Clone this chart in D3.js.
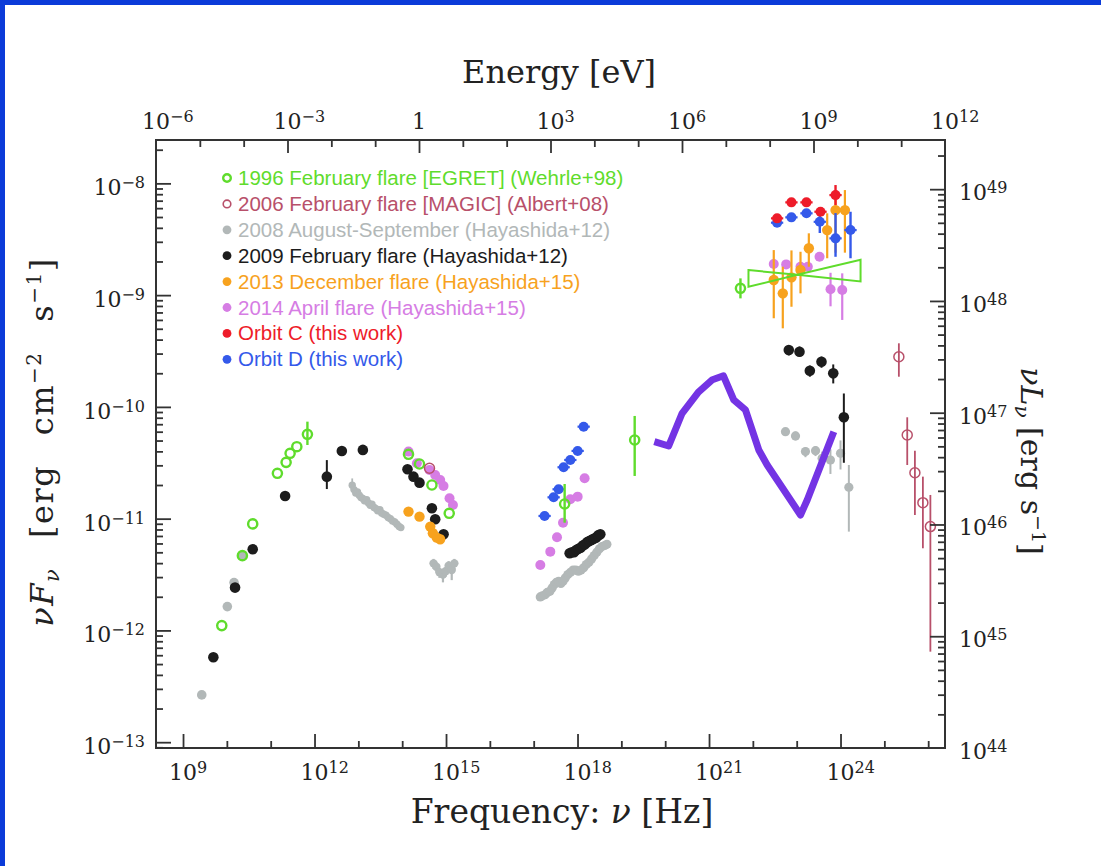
<!DOCTYPE html>
<html>
<head>
<meta charset="utf-8">
<script src="https://cdn.jsdelivr.net/npm/d3@7"></script>
<style>
  body { margin: 0; background: #fff; }
  svg { display: block; }
</style>
</head>
<body>
<svg id="chart" width="1101" height="866"></svg>
<script>
// all values are log10: nu [Hz], nuFnu [erg cm-2 s-1]

// 1996 February flare [EGRET] (Wehrle+98)
const egretNu = [9.884, 10.354, 10.59, 11.153, 11.352, 11.443, 11.596, 11.838, 14.144, 14.395, 14.678, 15.073, 17.706, 19.304, 21.717];
const egretF  = [-11.957, -11.331, -11.047, -10.594, -10.496, -10.415, -10.356, -10.245, -10.424, -10.511, -10.699, -10.952, -10.869, -10.296, -8.939];
const egretLo = [null, null, null, null, null, null, null, -10.341, null, null, null, null, -11.036, -10.618, -9.029];
const egretHi = [null, null, null, null, null, null, null, -10.132, null, null, null, null, -10.69, -10.081, -8.85];
// EGRET power-law bowtie: left end, pivot, right end
const bowNu    = [21.9, 23.011, 24.457];
const bowUpper = [-8.776, -8.818, -8.684];
const bowLower = [-8.925, -8.818, -8.878];

// 2006 February flare [MAGIC] (Albert+08)
const magicNu = [14.623, 25.331, 25.522, 25.697, 25.879, 26.05];
const magicF  = [-10.549, -9.551, -10.251, -10.589, -10.857, -11.071];
const magicLo = [null, -9.73, -10.52, -10.967, -11.265, -12.19];
const magicHi = [null, -9.431, -10.093, -10.392, -10.624, -10.788];

// 2008 August-September (Hayashida+12)
const grayRadioNu = [9.427, 10.011, 10.164, 10.354];
const grayRadioF  = [-12.577, -11.787, -11.572, -11.331];
const grayOptNu = [12.86, 12.90, 12.94, 12.98, 13.02, 13.06, 13.10, 13.14, 13.19, 13.23, 13.27, 13.31, 13.36,
                   13.40, 13.44, 13.49, 13.53, 13.58, 13.63, 13.68, 13.73, 13.78, 13.83, 13.88, 13.93, 13.97];
const grayOptF  = [-10.70, -10.74, -10.77, -10.76, -10.79, -10.81, -10.82, -10.84, -10.83, -10.86, -10.88, -10.87, -10.90,
                   -10.91, -10.93, -10.92, -10.95, -10.96, -10.97, -10.99, -11.00, -11.02, -11.03, -11.05, -11.07, -11.08];
const grayOptLo = [-10.75, null, null, null, -10.83, null, null, -10.87, null, null, -10.91, null, null,
                   -10.94, null, null, -10.98, null, null, -11.02, null, null, -11.06, null, null, -11.11];
const grayOptHi = [-10.64, null, null, null, -10.76, null, null, -10.81, null, null, -10.85, null, null,
                   -10.88, null, null, -10.92, null, null, -10.96, null, null, -11.00, null, null, -11.05];
const grayUvNu = [14.715, 14.78, 14.85, 14.93, 14.99, 15.06, 15.13, 15.19];
const grayUvF  = [-11.40, -11.43, -11.48, -11.50, -11.47, -11.42, -11.46, -11.40];
const grayUvLo = [-11.45, -11.48, -11.53, -11.57, -11.52, -11.47, -11.55, -11.45];
const grayUvHi = [-11.36, -11.39, -11.44, -11.45, -11.43, -11.38, -11.41, -11.36];
const grayXNu = [17.15, 17.20, 17.26, 17.31, 17.37, 17.42, 17.47, 17.52, 17.57, 17.62, 17.67, 17.72, 17.78, 17.84,
                 17.90, 17.96, 18.02, 18.08, 18.14, 18.20, 18.26, 18.32, 18.38, 18.44, 18.50, 18.56, 18.62, 18.67];
const grayXF  = [-11.70, -11.69, -11.68, -11.66, -11.65, -11.62, -11.59, -11.57, -11.56, -11.58, -11.56, -11.53, -11.50, -11.48,
                 -11.46, -11.46, -11.47, -11.46, -11.44, -11.41, -11.39, -11.36, -11.33, -11.30, -11.27, -11.25, -11.24, -11.23];
const grayGamNu = [22.744, 22.973, 23.2, 23.43, 23.58, 23.77, 24.0, 24.19];
const grayGamF  = [-10.222, -10.26, -10.4, -10.392, -10.46, -10.475, -10.415, -10.719];
const grayGamLo = [-10.26, -10.30, -10.45, -10.44, -10.53, -10.6, -10.56, -11.116];
const grayGamHi = [-10.19, -10.22, -10.36, -10.35, -10.40, -10.38, -10.3, -10.52];

// 2009 February flare (Hayashida+12)
const blackNu = [9.692, 10.187, 10.59, 11.329, 12.281, 12.623, 13.103,
                 14.121, 14.258, 14.395, 14.678, 14.753, 14.944,
                 17.82, 17.87, 17.92, 17.97, 18.02, 18.07, 18.12, 18.17, 18.22, 18.27, 18.32, 18.37, 18.42, 18.47, 18.52,
                 22.82, 23.064, 23.3, 23.566, 23.834, 24.076];
const blackF  = [-12.24, -11.617, -11.274, -10.797, -10.624, -10.394, -10.385,
                 -10.558, -10.624, -10.678, -10.907, -11.005, -11.14,
                 -11.31, -11.30, -11.30, -11.28, -11.27, -11.26, -11.24, -11.23, -11.21, -11.20, -11.19, -11.18, -11.17, -11.15, -11.14,
                 -9.491, -9.506, -9.676, -9.596, -9.7, -10.093];
const blackLo = [null, null, null, null, -10.735, null, null,
                 null, null, null, null, null, null,
                 null, null, null, null, null, null, null, null, null, null, null, null, null, null, null,
                 -9.54, -9.55, -9.73, -9.65, -9.79, -10.5];
const blackHi = [null, null, null, null, -10.476, null, null,
                 null, null, null, null, null, null,
                 null, null, null, null, null, null, null, null, null, null, null, null, null, null, null,
                 -9.45, -9.46, -9.63, -9.55, -9.62, -9.88];

// 2013 December flare (Hayashida+15)
const orangeNu = [14.144, 14.395, 14.64, 14.7, 14.79, 14.866,
                  22.477, 22.683, 22.881, 23.087, 23.277, 23.696, 23.886, 24.1];
const orangeF  = [-10.937, -10.982, -11.071, -11.131, -11.17, -11.184,
                  -8.865, -8.984, -8.841, -8.775, -8.581, -8.418, -8.239, -8.239];
const orangeLo = [null, null, null, null, null, null,
                  -9.207, -9.297, -9.104, -8.984, -8.746, -8.67, -8.62, -8.62];
const orangeHi = [null, null, null, null, null, null,
                  -8.597, -8.746, -8.6, -8.612, -8.447, -8.268, -8.06, -8.06];

// 2014 April flare (Hayashida+15)
const violetNu = [14.144, 14.335, 14.623, 14.753, 14.867, 14.943, 15.08, 15.158,
                  17.151, 17.379, 17.532, 17.669, 17.836, 18.003, 18.162,
                  22.477, 22.76, 23.087, 23.254, 23.521, 23.772, 24.039];
const violetF  = [-10.4, -10.504, -10.564, -10.609, -10.654, -10.708, -10.818, -10.878,
                  -11.414, -11.295, -11.166, -11.036, -10.826, -10.803, -10.639,
                  -8.722, -8.725, -8.746, -8.746, -8.657, -8.948, -8.954];
const violetLo = [null, null, null, null, null, null, null, null,
                  null, null, null, null, null, null, null,
                  null, null, null, null, null, -9.1, -9.222];
const violetHi = [null, null, null, null, null, null, null, null,
                  null, null, null, null, null, null, null,
                  null, null, null, null, null, -8.8, -8.805];

// Orbit C (this work)
const orbitCNu = [22.553, 22.88, 23.223, 23.543, 23.886];
const orbitCF  = [-8.313, -8.17, -8.17, -8.254, -8.105];
const orbitCLo = [null, null, null, null, -8.194];
const orbitCHi = [null, null, null, null, -8.015];

// Orbit D (this work)
const orbitDNu = [17.249, 17.455, 17.569, 17.683, 17.836, 18.003, 18.14,
                  22.553, 22.88, 23.223, 23.527, 23.886, 24.228];
const orbitDF  = [-10.976, -10.809, -10.737, -10.54, -10.475, -10.394, -10.177,
                  -8.352, -8.304, -8.268, -8.344, -8.492, -8.418];
const orbitDLo = [null, null, null, null, null, null, null,
                  null, null, null, -8.444, -8.657, -8.67];
const orbitDHi = [null, null, null, null, null, null, null,
                  null, null, null, -8.237, -8.266, -8.254];

// thick model curve
const curveNu = [19.753, 20.08, 20.386, 20.758, 21.078, 21.329, 21.564, 21.831, 22.135, 22.327, 23.087, 23.24, 23.847];
const curveF  = [-10.311, -10.35, -10.057, -9.867, -9.757, -9.722, -9.937, -10.027, -10.385, -10.52, -10.967, -10.833, -10.222];

// legend
const legendLabels = [
  "1996 February flare [EGRET] (Wehrle+98)",
  "2006 February flare [MAGIC] (Albert+08)",
  "2008 August-September (Hayashida+12)",
  "2009 February flare (Hayashida+12)",
  "2013 December flare (Hayashida+15)",
  "2014 April flare (Hayashida+15)",
  "Orbit C (this work)",
  "Orbit D (this work)"
];
const legendColors = ["#5fdc2c", "#b8506a", "#b2b8b8", "#1c1c1c", "#f7a21e", "#d67de4", "#ee1c2a", "#3459ea"];
const legendOpen = [true, true, false, false, false, false, false, false];

// ticks
const freqExps = d3.range(9, 27);        // one tick per decade
const energyExps = d3.range(-6, 13);
const fluxExps = d3.range(-13, -7);
const lumExps = d3.range(44, 50);

// luminosity conversion: log(nuLnu) - log(nuFnu)
const lumOffset = 57.052;

const frame = { left: 156, right: 945, top: 140, bottom: 748 };
const serif = "'DejaVu Serif', serif";
const sans = "'Liberation Sans', Arial, sans-serif";
const axisColor = "#333";

const svg = d3.select("#chart");

// blue border of the slide
svg.append("rect").attr("x", 0).attr("y", 0).attr("width", 1101).attr("height", 866).attr("fill", "#fff");
svg.append("rect").attr("x", 0).attr("y", 0).attr("width", 1101).attr("height", 5).attr("fill", "#0b3bd9");
svg.append("rect").attr("x", 0).attr("y", 0).attr("width", 5).attr("height", 866).attr("fill", "#0b3bd9");

const x = d3.scaleLog().domain([10 ** 8.3835, 10 ** 26.3835]).range([frame.left, frame.right]);
const xE = d3.scaleLog().domain([1e-6, 1e12]).range([frame.left, frame.right]);
const y = d3.scaleLog().domain([10 ** -13.052, 10 ** -7.612]).range([frame.bottom, frame.top]);
const yL = d3.scaleLog().domain([10 ** (-13.052 + lumOffset), 10 ** (-7.612 + lumOffset)]).range([frame.bottom, frame.top]);

svg.append("clipPath").attr("id", "clip")
  .append("rect")
    .attr("x", frame.left).attr("y", frame.top)
    .attr("width", frame.right - frame.left).attr("height", frame.bottom - frame.top);

const plot = svg.append("g").attr("clip-path", "url(#clip)");

function pointsOf(nu, f, lo, hi) {
  return nu.map((n, i) => ({
    nu: 10 ** n,
    f: 10 ** f[i],
    lo: lo && lo[i] != null ? 10 ** lo[i] : null,
    hi: hi && hi[i] != null ? 10 ** hi[i] : null
  }));
}

function drawSeries(pts, opt) {
  const g = plot.append("g");
  g.selectAll("line.err")
    .data(pts.filter(d => d.lo != null))
    .join("line")
      .attr("class", "err")
      .attr("x1", d => x(d.nu)).attr("x2", d => x(d.nu))
      .attr("y1", d => y(d.lo)).attr("y2", d => y(d.hi))
      .attr("stroke", opt.color)
      .attr("stroke-width", opt.ew || 2);
  if (opt.xbar) {
    g.selectAll("line.xerr")
      .data(pts)
      .join("line")
        .attr("class", "xerr")
        .attr("x1", d => x(d.nu / 10 ** opt.xbar)).attr("x2", d => x(d.nu * 10 ** opt.xbar))
        .attr("y1", d => y(d.f)).attr("y2", d => y(d.f))
        .attr("stroke", opt.color)
        .attr("stroke-width", 2.2);
  }
  g.selectAll("circle")
    .data(pts)
    .join("circle")
      .attr("cx", d => x(d.nu))
      .attr("cy", d => y(d.f))
      .attr("r", opt.r)
      .attr("fill", opt.open ? "none" : opt.color)
      .attr("stroke", opt.open ? opt.color : "none")
      .attr("stroke-width", opt.sw || 0);
}

const cGreen = legendColors[0], cMagic = legendColors[1], cGray = legendColors[2], cBlack = legendColors[3];
const cOrange = legendColors[4], cViolet = legendColors[5], cRed = legendColors[6], cBlue = legendColors[7];

// 2008 gray
drawSeries(pointsOf(grayRadioNu, grayRadioF), { color: cGray, r: 4.8 });
drawSeries(pointsOf(grayOptNu, grayOptF, grayOptLo, grayOptHi), { color: cGray, r: 3.7, ew: 1.8 });
drawSeries(pointsOf(grayUvNu, grayUvF, grayUvLo, grayUvHi), { color: cGray, r: 4.2, ew: 2.2 });
drawSeries(pointsOf(grayXNu, grayXF), { color: cGray, r: 4.6 });
drawSeries(pointsOf(grayGamNu, grayGamF, grayGamLo, grayGamHi), { color: cGray, r: 4.6, ew: 2, xbar: 0.08 });

// model curve
const curvePts = pointsOf(curveNu, curveF);
plot.append("path")
  .datum(curvePts)
  .attr("fill", "none")
  .attr("stroke", "#7434e4")
  .attr("stroke-width", 7)
  .attr("stroke-linejoin", "round")
  .attr("d", d3.line().x(d => x(d.nu)).y(d => y(d.f)));

drawSeries(pointsOf(blackNu, blackF, blackLo, blackHi), { color: cBlack, r: 5.3, ew: 2 });
drawSeries(pointsOf(violetNu, violetF, violetLo, violetHi), { color: cViolet, r: 5, ew: 2.2 });
drawSeries(pointsOf(orangeNu, orangeF, orangeLo, orangeHi), { color: cOrange, r: 5.2, ew: 2.2 });
drawSeries(pointsOf(orbitDNu, orbitDF, orbitDLo, orbitDHi), { color: cBlue, r: 5, ew: 2.4, xbar: 0.14 });
drawSeries(pointsOf(orbitCNu, orbitCF, orbitCLo, orbitCHi), { color: cRed, r: 5, ew: 2.4, xbar: 0.14 });

// EGRET bowtie
const bowPts = [0, 1, 2].map(i => ({ nu: 10 ** bowNu[i], f: 10 ** bowUpper[i] }))
  .concat([2, 1, 0].map(i => ({ nu: 10 ** bowNu[i], f: 10 ** bowLower[i] })));
plot.append("path")
  .datum(bowPts)
  .attr("fill", "none")
  .attr("stroke", cGreen)
  .attr("stroke-width", 2)
  .attr("d", d3.line().x(d => x(d.nu)).y(d => y(d.f)).curve(d3.curveLinearClosed));

drawSeries(pointsOf(egretNu, egretF, egretLo, egretHi), { color: cGreen, r: 4.6, open: true, sw: 2.4, ew: 2.4 });
drawSeries(pointsOf(magicNu, magicF, magicLo, magicHi), { color: cMagic, r: 5, open: true, sw: 1.5, ew: 1.8 });

// frame
svg.append("rect")
  .attr("x", frame.left).attr("y", frame.top)
  .attr("width", frame.right - frame.left).attr("height", frame.bottom - frame.top)
  .attr("fill", "none").attr("stroke", axisColor).attr("stroke-width", 2);

// ticks (inward) through d3 axes
function tickAxis(axisFn, scale, values, size, transform) {
  const g = svg.append("g")
    .attr("transform", transform)
    .call(axisFn(scale).tickValues(values).tickSize(-size).tickFormat(""));
  g.select(".domain").remove();
  g.selectAll(".tick line").attr("stroke", axisColor).attr("stroke-width", 1.8);
  return g;
}

const freqMajor = freqExps.filter(e => e % 3 === 0).map(e => 10 ** e);
const freqMinor = freqExps.filter(e => e % 3 !== 0).map(e => 10 ** e);
tickAxis(d3.axisBottom, x, freqMajor, 14, `translate(0,${frame.bottom})`);
tickAxis(d3.axisBottom, x, freqMinor, 7, `translate(0,${frame.bottom})`);

const enMajor = energyExps.filter(e => e % 3 === 0 && e > -6 && e < 12).map(e => 10 ** e);
const enMinor = energyExps.filter(e => e % 3 !== 0).map(e => 10 ** e);
tickAxis(d3.axisTop, xE, enMajor, 13, `translate(0,${frame.top})`);
tickAxis(d3.axisTop, xE, enMinor, 7, `translate(0,${frame.top})`);

function minorLog(scale) {
  const [a, b] = scale.domain();
  const out = [];
  for (let e = Math.floor(Math.log10(a)); e <= Math.ceil(Math.log10(b)); e++) {
    for (let k = 2; k <= 9; k++) {
      const v = k * 10 ** e;
      if (v >= a && v <= b) out.push(v);
    }
  }
  return out;
}
tickAxis(d3.axisLeft, y, fluxExps.map(e => 10 ** e), 15, `translate(${frame.left},0)`);
tickAxis(d3.axisLeft, y, minorLog(y), 7, `translate(${frame.left},0)`);
tickAxis(d3.axisRight, yL, lumExps.filter(e => e > 44).map(e => 10 ** e), 15, `translate(${frame.right},0)`);
tickAxis(d3.axisRight, yL, minorLog(yL), 7, `translate(${frame.right},0)`);

// power-of-ten labels
const baseSize = 22, expSize = 16;
function powLabel(px, py, exp, mode) {
  const t = svg.append("text")
    .attr("y", py)
    .attr("font-family", serif)
    .attr("font-size", baseSize)
    .attr("fill", "#222");
  if (exp === 0) {
    t.text("1").attr("x", px).attr("text-anchor", "middle");
    return;
  }
  const base = t.append("tspan").text("10");
  t.append("tspan")
    .attr("dy", -7)
    .attr("font-size", expSize)
    .text(exp < 0 ? "\u2212" + (-exp) : String(exp));
  if (mode === "center") {
    const w = base.node().getComputedTextLength();
    t.attr("x", px - w / 2);
  } else if (mode === "end") {
    t.attr("x", px).attr("text-anchor", "end");
  } else {
    t.attr("x", px);
  }
}

freqExps.filter(e => e % 3 === 0).forEach(e => powLabel(x(10 ** e), 780, e, "center"));
energyExps.filter(e => e % 3 === 0).forEach(e => powLabel(xE(10 ** e), 129, e, "center"));
fluxExps.forEach(e => powLabel(145, y(10 ** e) + 12, e, "end"));
lumExps.forEach(e => powLabel(959, yL(10 ** e) + 11, e, "start"));

// axis titles
svg.append("text")
  .attr("x", 559).attr("y", 83)
  .attr("text-anchor", "middle")
  .attr("font-family", serif).attr("font-size", 32).attr("fill", "#222")
  .text("Energy [eV]");

const xTitle = svg.append("text")
  .attr("x", 562).attr("y", 823)
  .attr("text-anchor", "middle")
  .attr("font-family", serif).attr("font-size", 33).attr("fill", "#222");
xTitle.append("tspan").text("Frequency: ");
xTitle.append("tspan").attr("font-style", "italic").text("\u03bd");
xTitle.append("tspan").text(" [Hz]");

const yTitle = svg.append("text")
  .attr("transform", "translate(53,442) rotate(-90)")
  .attr("text-anchor", "middle")
  .attr("letter-spacing", 1.5)
  .attr("word-spacing", 18)
  .attr("font-family", serif).attr("font-size", 32).attr("fill", "#222");
yTitle.append("tspan").attr("font-style", "italic").text("\u03bdF");
yTitle.append("tspan").attr("font-style", "italic").attr("font-size", 21).attr("dy", 6).text("\u03bd");
yTitle.append("tspan").attr("dy", -6).text(" [erg cm");
yTitle.append("tspan").attr("font-size", 20).attr("dy", -12).text("\u22122");
yTitle.append("tspan").attr("dy", 12).text(" s");
yTitle.append("tspan").attr("font-size", 20).attr("dy", -12).text("\u22121");
yTitle.append("tspan").attr("dy", 12).text("]");

const y2Title = svg.append("text")
  .attr("transform", "translate(1021,461) rotate(90)")
  .attr("text-anchor", "middle")
  .attr("font-family", serif).attr("font-size", 30).attr("fill", "#222");
y2Title.append("tspan").attr("font-style", "italic").text("\u03bdL");
y2Title.append("tspan").attr("font-style", "italic").attr("font-size", 20).attr("dy", 6).text("\u03bd");
y2Title.append("tspan").attr("dy", -6).text(" [erg s");
y2Title.append("tspan").attr("font-size", 19).attr("dy", -11).text("\u22121");
y2Title.append("tspan").attr("dy", 11).text("]");

// legend
const legend = svg.append("g").attr("transform", "translate(227,178)");
legendLabels.forEach((label, i) => {
  const row = legend.append("g").attr("transform", `translate(0,${i * 25.9})`);
  row.append("circle")
    .attr("r", legendOpen[i] ? 3.8 : 4.4)
    .attr("fill", legendOpen[i] ? "none" : legendColors[i])
    .attr("stroke", legendOpen[i] ? legendColors[i] : "none")
    .attr("stroke-width", i === 0 ? 2.4 : 1.6);
  row.append("text")
    .attr("x", 11).attr("y", 7)
    .attr("font-family", sans).attr("font-size", 20.5)
    .attr("fill", legendColors[i])
    .text(label);
});
</script>
</body>
</html>
